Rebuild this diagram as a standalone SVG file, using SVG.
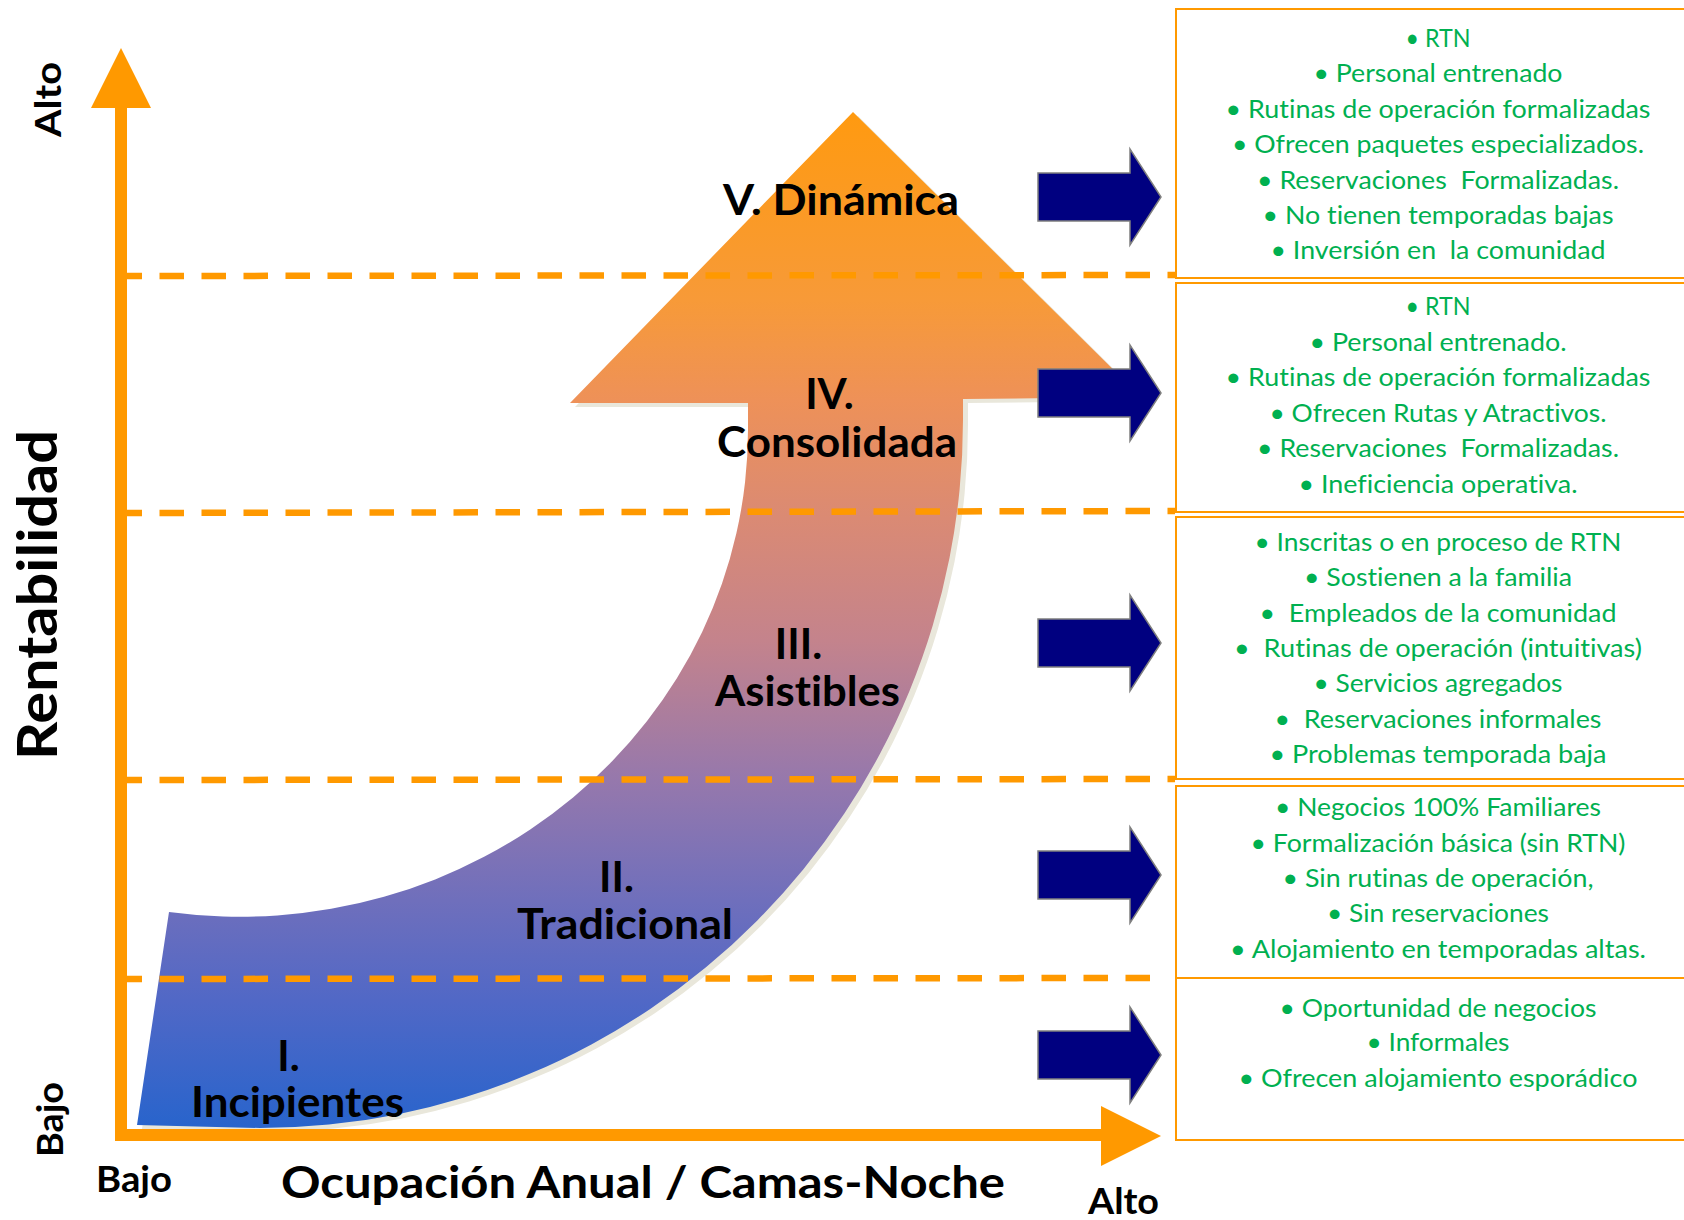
<svg xmlns="http://www.w3.org/2000/svg" width="1684" height="1220" viewBox="0 0 1684 1220">
<defs>
<linearGradient id="bandGrad" gradientUnits="userSpaceOnUse" x1="0" y1="112" x2="0" y2="1128">
<stop offset="0" stop-color="#FF9A10"/>
<stop offset="0.185" stop-color="#F79A38"/>
<stop offset="0.283" stop-color="#EE9158"/>
<stop offset="0.40" stop-color="#DA8A74"/>
<stop offset="0.52" stop-color="#C4838C"/>
<stop offset="0.657" stop-color="#9678AC"/>
<stop offset="0.776" stop-color="#6F6FBC"/>
<stop offset="0.874" stop-color="#5168C6"/>
<stop offset="1" stop-color="#2864CC"/>
</linearGradient>
<path id="bandShape" d="M137,1125 L169,912 A508 487 0 0 0 748,430 L748,403 L570,403 L853,112 L1141,397 L963,399 L963,420 A703 708 0 0 1 260,1128 Z"/>
<style>
.dash{stroke:#FF9900;stroke-width:6.5;stroke-dasharray:24.5 17.5;fill:none}
.axis{stroke:#FF9900;stroke-width:12;fill:none}
.axhead{fill:#FF9900}
.box{fill:none;stroke:#FF9900;stroke-width:2}
.blue{fill:#000080;stroke:#7F7F7F;stroke-width:1.5}
.g{font-family:Lato,'Open Sans',sans-serif;font-size:25px;fill:#00B050;text-anchor:middle;white-space:pre;font-variant-ligatures:none}
.lbl{font-family:Lato,'Open Sans',sans-serif;font-weight:bold;font-size:42px;fill:#000;text-anchor:middle;font-variant-ligatures:none}
.ax{font-family:Lato,'Open Sans',sans-serif;font-weight:bold;font-size:36px;fill:#000;text-anchor:middle;font-variant-ligatures:none}
</style>
</defs>
<rect width="1684" height="1220" fill="#FFFFFF"/>

<g id="growth-arrow">
<use href="#bandShape" transform="translate(5,4)" fill="#E9E7DB"/>
<use href="#bandShape" fill="url(#bandGrad)"/>
</g>

<g id="connectors">
<line class="dash" x1="127" y1="276" x2="1175" y2="275" stroke-dashoffset="9.5"/>
<line class="dash" x1="127" y1="513" x2="1175" y2="511" stroke-dashoffset="9.5"/>
<line class="dash" x1="127" y1="780" x2="1175" y2="779" stroke-dashoffset="9.5"/>
<line class="dash" x1="127" y1="979" x2="1150" y2="978" stroke-dashoffset="9.5"/>
</g>

<g id="axes">
<line class="axis" x1="121" y1="104" x2="121" y2="1141"/>
<polygon class="axhead" points="121,48 151,108 91,108"/>
<line class="axis" x1="115" y1="1135" x2="1104" y2="1135"/>
<polygon class="axhead" points="1101,1106 1161,1136 1101,1166"/>
</g>

<g id="blue-arrows">
<path class="blue" d="M1038,173 L1130,173 L1130,149 L1161,197 L1130,245 L1130,221 L1038,221 Z"/>
<path class="blue" d="M1038,369 L1130,369 L1130,345 L1161,393 L1130,441 L1130,417 L1038,417 Z"/>
<path class="blue" d="M1038,619 L1130,619 L1130,595 L1161,643 L1130,691 L1130,667 L1038,667 Z"/>
<path class="blue" d="M1038,851 L1130,851 L1130,827 L1161,875 L1130,923 L1130,899 L1038,899 Z"/>
<path class="blue" d="M1038,1031 L1130,1031 L1130,1007 L1161,1055 L1130,1103 L1130,1079 L1038,1079 Z"/>
</g>

<g id="box-V">
<rect class="box" x="1176" y="9" width="530" height="269"/>
<text class="g" x="1438" y="47" textLength="65" lengthAdjust="spacingAndGlyphs">• RTN</text>
<text class="g" x="1438" y="82" textLength="249" lengthAdjust="spacingAndGlyphs">• Personal entrenado</text>
<text class="g" x="1438" y="118" textLength="425" lengthAdjust="spacingAndGlyphs">• Rutinas de operación formalizadas</text>
<text class="g" x="1438" y="153" textLength="412" lengthAdjust="spacingAndGlyphs">• Ofrecen paquetes especializados.</text>
<text class="g" x="1438" y="189" textLength="362" lengthAdjust="spacingAndGlyphs">• Reservaciones  Formalizadas.</text>
<text class="g" x="1438" y="224" textLength="351" lengthAdjust="spacingAndGlyphs">• No tienen temporadas bajas</text>
<text class="g" x="1438" y="259" textLength="335" lengthAdjust="spacingAndGlyphs">• Inversión en  la comunidad</text>
</g>

<g id="box-IV">
<rect class="box" x="1176" y="283" width="530" height="229"/>
<text class="g" x="1438" y="315" textLength="65" lengthAdjust="spacingAndGlyphs">• RTN</text>
<text class="g" x="1438" y="351" textLength="257" lengthAdjust="spacingAndGlyphs">• Personal entrenado.</text>
<text class="g" x="1438" y="386" textLength="425" lengthAdjust="spacingAndGlyphs">• Rutinas de operación formalizadas</text>
<text class="g" x="1438" y="422" textLength="337" lengthAdjust="spacingAndGlyphs">• Ofrecen Rutas y Atractivos.</text>
<text class="g" x="1438" y="457" textLength="362" lengthAdjust="spacingAndGlyphs">• Reservaciones  Formalizadas.</text>
<text class="g" x="1438" y="493" textLength="279" lengthAdjust="spacingAndGlyphs">• Ineficiencia operativa.</text>
</g>

<g id="box-III">
<rect class="box" x="1176" y="517" width="530" height="262"/>
<text class="g" x="1438" y="551" textLength="367" lengthAdjust="spacingAndGlyphs">• Inscritas o en proceso de RTN</text>
<text class="g" x="1438" y="586" textLength="268" lengthAdjust="spacingAndGlyphs">• Sostienen a la familia</text>
<text class="g" x="1438" y="622" textLength="357" lengthAdjust="spacingAndGlyphs">•  Empleados de la comunidad</text>
<text class="g" x="1438" y="657" textLength="408" lengthAdjust="spacingAndGlyphs">•  Rutinas de operación (intuitivas)</text>
<text class="g" x="1438" y="692" textLength="249" lengthAdjust="spacingAndGlyphs">• Servicios agregados</text>
<text class="g" x="1438" y="728" textLength="327" lengthAdjust="spacingAndGlyphs">•  Reservaciones informales</text>
<text class="g" x="1438" y="763" textLength="337" lengthAdjust="spacingAndGlyphs">• Problemas temporada baja</text>
</g>

<g id="box-II">
<rect class="box" x="1176" y="786" width="530" height="192"/>
<text class="g" x="1438" y="816" textLength="326" lengthAdjust="spacingAndGlyphs">• Negocios 100% Familiares</text>
<text class="g" x="1438" y="852" textLength="375" lengthAdjust="spacingAndGlyphs">• Formalización básica (sin RTN)</text>
<text class="g" x="1438" y="887" textLength="311" lengthAdjust="spacingAndGlyphs">• Sin rutinas de operación,</text>
<text class="g" x="1438" y="922" textLength="222" lengthAdjust="spacingAndGlyphs">• Sin reservaciones</text>
<text class="g" x="1438" y="958" textLength="416" lengthAdjust="spacingAndGlyphs">• Alojamiento en temporadas altas.</text>
</g>

<g id="box-I">
<rect class="box" x="1176" y="978" width="530" height="162"/>
<text class="g" x="1438" y="1017" textLength="317" lengthAdjust="spacingAndGlyphs">• Oportunidad de negocios</text>
<text class="g" x="1438" y="1051" textLength="143" lengthAdjust="spacingAndGlyphs">• Informales</text>
<text class="g" x="1438" y="1087" textLength="399" lengthAdjust="spacingAndGlyphs">• Ofrecen alojamiento esporádico</text>
</g>

<g id="stage-labels">
<text class="lbl" x="841" y="215" textLength="236" lengthAdjust="spacingAndGlyphs">V. Dinámica</text>
<text class="lbl" x="829.5" y="409">IV.</text>
<text class="lbl" x="837" y="457" textLength="240" lengthAdjust="spacingAndGlyphs">Consolidada</text>
<text class="lbl" x="798.5" y="659">III.</text>
<text class="lbl" x="807.5" y="706" textLength="185" lengthAdjust="spacingAndGlyphs">Asistibles</text>
<text class="lbl" x="616.5" y="892">II.</text>
<text class="lbl" x="625" y="939" textLength="216" lengthAdjust="spacingAndGlyphs">Tradicional</text>
<text class="lbl" x="288.5" y="1071">I.</text>
<text class="lbl" x="297.5" y="1117" textLength="213" lengthAdjust="spacingAndGlyphs">Incipientes</text>
</g>

<g id="axis-labels">
<text class="ax" x="643" y="1198" style="font-size:44px" textLength="724" lengthAdjust="spacingAndGlyphs">Ocupación Anual / Camas-Noche</text>
<text class="ax" x="134" y="1192" textLength="76" lengthAdjust="spacingAndGlyphs">Bajo</text>
<text class="ax" x="1123.5" y="1214" textLength="71" lengthAdjust="spacingAndGlyphs">Alto</text>
<text class="ax" transform="translate(61,99.5) rotate(-90)" x="0" y="0" textLength="75" lengthAdjust="spacingAndGlyphs">Alto</text>
<text class="ax" transform="translate(63,1119.5) rotate(-90)" x="0" y="0" textLength="75" lengthAdjust="spacingAndGlyphs">Bajo</text>
<text class="ax" transform="translate(57,595) rotate(-90)" x="0" y="0" style="font-size:56px" textLength="330" lengthAdjust="spacingAndGlyphs">Rentabilidad</text>
</g>
</svg>
